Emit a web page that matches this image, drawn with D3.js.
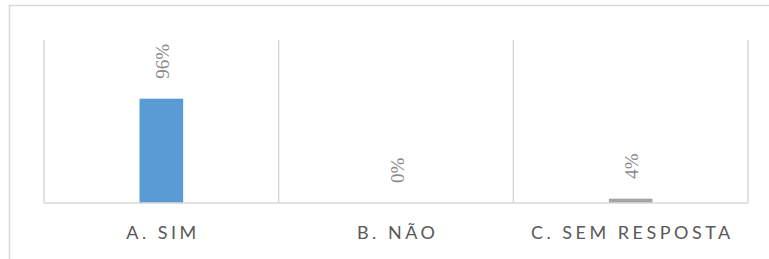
<!DOCTYPE html>
<html>
<head>
<meta charset="utf-8">
<script src="https://cdn.jsdelivr.net/npm/d3@7"></script>
<style>
  body { margin: 0; background: #fff; }
  svg { display: block; }
</style>
</head>
<body>
<svg id="chart" width="769" height="259"></svg>
<script>
// chart data
var categories = ["A. SIM", "B. NÃO", "C. SEM RESPOSTA"];
var values = [0.96, 0.00, 0.04];
var valueLabels = ["96%", "0%", "4%"];
var barColors = ["#5b9bd5", "#ed7d31", "#a5a5a5"];

var width = 769, height = 259;
var margin = {top: 40, right: 21, bottom: 56, left: 44};
var plotW = width - margin.left - margin.right;
var plotH = height - margin.top - margin.bottom;

var svg = d3.select("#chart");

// outer chart border (clipped on right/bottom like the source)
svg.append("rect")
  .attr("x", 9.5)
  .attr("y", 5.5)
  .attr("width", 780)
  .attr("height", 300)
  .attr("fill", "none")
  .attr("stroke", "#d9d9d9")
  .attr("stroke-width", 1.5);

var g = svg.append("g")
  .attr("transform", "translate(" + margin.left + "," + margin.top + ")");

var xScale = d3.scaleBand()
  .domain(categories)
  .range([0, plotW])
  .padding(0);

var yScale = d3.scaleLinear()
  .domain([0, 1.5])
  .range([plotH, 0]);

// vertical divider lines between categories
var dividers = [0].concat(categories.map(function(c){ return xScale(c) + xScale.bandwidth(); }));
g.selectAll("line.div")
  .data(dividers)
  .enter()
  .append("line")
  .attr("class", "div")
  .attr("x1", function(d){ return d; })
  .attr("x2", function(d){ return d; })
  .attr("y1", 0)
  .attr("y2", plotH)
  .attr("stroke", "#d9d9d9")
  .attr("stroke-width", 1.5);

// bars
var barW = xScale.bandwidth() * 0.186;
g.selectAll("rect.bar")
  .data(values)
  .enter()
  .append("rect")
  .attr("class", "bar")
  .attr("x", function(d, i){ return xScale(categories[i]) + (xScale.bandwidth() - barW) / 2; })
  .attr("y", function(d){ return yScale(d); })
  .attr("width", barW)
  .attr("height", function(d){ return plotH - yScale(d); })
  .attr("fill", function(d, i){ return barColors[i]; });

// baseline
g.append("line")
  .attr("x1", 0)
  .attr("x2", plotW)
  .attr("y1", plotH)
  .attr("y2", plotH)
  .attr("stroke", "#d9d9d9")
  .attr("stroke-width", 1.5);

// rotated value labels
g.selectAll("text.val")
  .data(values)
  .enter()
  .append("text")
  .attr("class", "val")
  .attr("transform", function(d, i){
    var cx = xScale(categories[i]) + xScale.bandwidth() / 2;
    return "translate(" + cx + "," + (yScale(d) - 20) + ") rotate(-90)";
  })
  .attr("dy", "0.4em")
  .attr("text-anchor", "start")
  .attr("font-family", "'Liberation Serif', 'DejaVu Serif', serif")
  .attr("font-size", "19px")
  .attr("fill", "#8a8a8a")
  .text(function(d, i){ return valueLabels[i]; });

// category labels
var xAxis = d3.axisBottom(xScale).tickSize(0).tickPadding(0);
var axisG = g.append("g")
  .attr("transform", "translate(0," + plotH + ")")
  .call(xAxis);
axisG.select(".domain").remove();
axisG.selectAll("text")
  .attr("y", 36)
  .attr("dy", 0)
  .attr("dx", "1.7px")
  .attr("font-family", "Lato, 'Open Sans', sans-serif")
  .attr("font-size", "18px")
  .attr("letter-spacing", "3.5px")
  .attr("fill", "#595959");
</script>
</body>
</html>
